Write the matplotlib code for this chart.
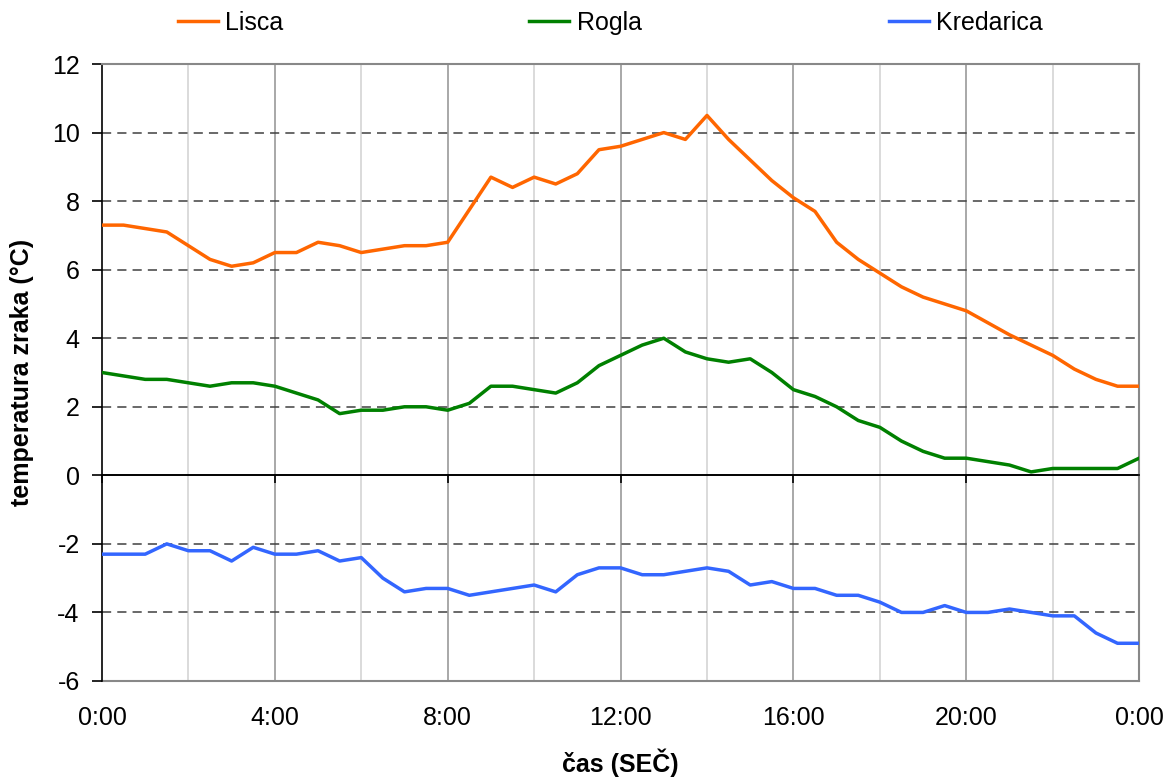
import numpy as np
import matplotlib
matplotlib.use("Agg")
import matplotlib.pyplot as plt

plt.rcParams['font.family'] = ['Liberation Sans', 'DejaVu Sans']
plt.rcParams['axes.unicode_minus'] = False

# half-hourly times (hours)
hours = np.arange(0, 24.01, 0.5)

lisca = [7.3, 7.3, 7.2, 7.1, 6.7, 6.3, 6.1, 6.2, 6.5, 6.5, 6.8, 6.7, 6.5, 6.6, 6.7, 6.7,
         6.8, 7.75, 8.7, 8.4, 8.7, 8.5, 8.8, 9.5, 9.6, 9.8, 10.0, 9.8, 10.5, 9.8, 9.2, 8.6,
         8.1, 7.7, 6.8, 6.3, 5.9, 5.5, 5.2, 5.0, 4.8, 4.45, 4.1, 3.8, 3.5, 3.1, 2.8, 2.6, 2.6]
rogla = [3.0, 2.9, 2.8, 2.8, 2.7, 2.6, 2.7, 2.7, 2.6, 2.4, 2.2, 1.8, 1.9, 1.9, 2.0, 2.0,
         1.9, 2.1, 2.6, 2.6, 2.5, 2.4, 2.7, 3.2, 3.5, 3.8, 4.0, 3.6, 3.4, 3.3, 3.4, 3.0,
         2.5, 2.3, 2.0, 1.6, 1.4, 1.0, 0.7, 0.5, 0.5, 0.4, 0.3, 0.1, 0.2, 0.2, 0.2, 0.2, 0.5]
kredarica = [-2.3, -2.3, -2.3, -2.0, -2.2, -2.2, -2.5, -2.1, -2.3, -2.3, -2.2, -2.5, -2.4, -3.0, -3.4, -3.3,
             -3.3, -3.5, -3.4, -3.3, -3.2, -3.4, -2.9, -2.7, -2.7, -2.9, -2.9, -2.8, -2.7, -2.8, -3.2, -3.1,
             -3.3, -3.3, -3.5, -3.5, -3.7, -4.0, -4.0, -3.8, -4.0, -4.0, -3.9, -4.0, -4.1, -4.1, -4.6, -4.9, -4.9]

series_names = ['Lisca', 'Rogla', 'Kredarica']
series_colors = ['#FF6600', '#008000', '#3366FF']

xtick_pos = [0, 4, 8, 12, 16, 20, 24]
xtick_labels = ['0:00', '4:00', '8:00', '12:00', '16:00', '20:00', '0:00']
yticks = list(range(-6, 13, 2))

FS = 18

fig = plt.figure(figsize=(11.68, 7.78), dpi=100)
ax = fig.add_axes([0.0873, 0.1247, 0.888, 0.793])

ax.set_xlim(0, 24)
ax.set_ylim(-6, 12)

# vertical grid lines
for h in range(2, 24, 2):
    ax.axvline(h, color='#999999' if h % 4 == 0 else '#d4d4d4', lw=1.2, zorder=0)
# horizontal dashed grid lines
for v in yticks:
    if v in (-6, 0, 12):
        continue
    ax.axhline(v, color='#404040', lw=1.1, dashes=(6, 4), zorder=0.5)
ax.axhline(0, color='black', lw=1.2, zorder=1)

lines = []
for data, name, col in zip([lisca, rogla, kredarica], series_names, series_colors):
    l, = ax.plot(hours, data, color=col, lw=2.5, label=name, zorder=3)
    lines.append(l)

# spines
for s in ('top', 'right'):
    ax.spines[s].set_color('#888888')
    ax.spines[s].set_linewidth(1.5)
ax.spines['left'].set_color('black')
ax.spines['left'].set_linewidth(1.2)
ax.spines['bottom'].set_position(('data', 0))
ax.spines['bottom'].set_color('black')
ax.spines['bottom'].set_linewidth(1.2)

ax.set_xticks(xtick_pos)
ax.tick_params(axis='x', direction='out', length=6, width=1.2, labelbottom=False)
ax.set_yticks(yticks)
ax.set_yticklabels([str(v) for v in yticks])
ax.tick_params(axis='y', direction='out', length=7, width=1.2, labelsize=FS, pad=9)

sec = ax.secondary_xaxis(0)
sec.set_xticks(xtick_pos)
sec.set_xticklabels(xtick_labels)
sec.tick_params(length=0, labelsize=FS, pad=18)
sec.spines['bottom'].set_color('#888888')
sec.spines['bottom'].set_linewidth(1.5)

fig.text(0.5 * (0.0873 + 0.9753), 1 - 763 / 778, 'čas (SEČ)', fontsize=FS,
         fontweight='bold', ha='center', va='center')
fig.text(22 / 1168, 1 - 372 / 778, 'temperatura zraka (°C)', fontsize=FS,
         fontweight='bold', ha='center', va='center', rotation=90)

# legend: one entry per column, spread across the top
legend_x = [0.152, 0.453, 0.761]
for l, xpos in zip(lines, legend_x):
    fig.legend(handles=[l], labels=[l.get_label()], loc='center left',
               bbox_to_anchor=(xpos, 0.971), frameon=False, fontsize=FS,
               handlelength=1.6, handletextpad=0.3, borderaxespad=0, borderpad=0)

fig.savefig('out.png', dpi=100)
